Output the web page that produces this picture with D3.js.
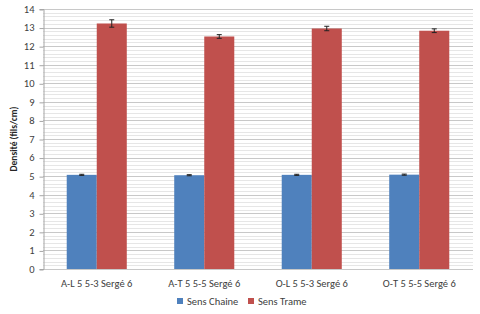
<!DOCTYPE html>
<html><head><meta charset="utf-8">
<script src="https://cdn.jsdelivr.net/npm/d3@7/dist/d3.min.js"></script>
<style>
html,body{margin:0;padding:0;background:#fff;}
svg{display:block;font-family:Calibri,"Liberation Sans","Open Sans",Arial,sans-serif;}
</style></head><body>
<svg id="c" width="480" height="314"></svg>
<script>
const categories = ["A-L 5 5-3 Sergé 6", "A-T 5 5-5 Sergé 6", "O-L 5 5-3 Sergé 6", "O-T 5 5-5 Sergé 6"];
const seriesNames = ["Sens Chaine", "Sens Trame"];
const chaineValues = [5.07, 5.05, 5.07, 5.08];
const trameValues = [13.22, 12.52, 12.95, 12.83];
const chaineErrors = [0.03, 0.03, 0.03, 0.03];
const trameErrors = [0.2, 0.1, 0.12, 0.1];
const yTicks = [0,1,2,3,4,5,6,7,8,9,10,11,12,13,14];
const yTitle = "Densité (fils/cm)";
const colors = ["#4F81BD", "#C0504D"];

const svg = d3.select("#c");
const m = {l: 43, r: 7, t: 9, b: 45};
const W = 480, H = 314;
const x0 = d3.scaleBand().domain(categories).range([m.l, W - m.r]).paddingInner(0).paddingOuter(0);
const inner = d3.scaleBand().domain(seriesNames).range([0, x0.bandwidth()]).paddingOuter(0.79).paddingInner(0);
const y = d3.scaleLinear().domain([0, 14]).range([H - m.b, m.t]);

// minor gridlines
const minor = d3.range(0, 14.001, 0.2).filter(v => Math.abs(v - Math.round(v)) > 1e-6);
svg.append("g").selectAll("line").data(minor).join("line")
  .attr("x1", m.l).attr("x2", W - m.r)
  .attr("y1", d => Math.round(y(d)) + 0.5).attr("y2", d => Math.round(y(d)) + 0.5)
  .attr("stroke", "#e6e6e6").attr("stroke-width", 1);
// major gridlines
svg.append("g").selectAll("line").data(yTicks).join("line")
  .attr("x1", m.l).attr("x2", W - m.r)
  .attr("y1", d => Math.round(y(d)) + 0.5).attr("y2", d => Math.round(y(d)) + 0.5)
  .attr("stroke", "#c8c8c8").attr("stroke-width", 1);

// y axis
const yAxis = d3.axisLeft(y).tickValues(yTicks).tickSize(4).tickPadding(5).tickFormat(d3.format("d"));
const ga = svg.append("g").attr("transform", `translate(${m.l + 0.5},0)`).call(yAxis);
ga.select(".domain").attr("stroke", "#a6a6a6");
ga.selectAll(".tick line").attr("stroke", "#a6a6a6").attr("transform", "translate(0,0.5)");
ga.selectAll(".tick text").attr("fill", "#404040").attr("font-size", "10.5px").attr("font-family", "Calibri,'Liberation Sans',Arial,sans-serif");

// bars
const data = categories.map((c, i) => ({c, vals: [
  {s: seriesNames[0], v: chaineValues[i], e: chaineErrors[i], col: colors[0]},
  {s: seriesNames[1], v: trameValues[i], e: trameErrors[i], col: colors[1]}]}));
const g = svg.append("g").selectAll("g").data(data).join("g")
  .attr("transform", d => `translate(${x0(d.c)},0)`);
g.selectAll("rect").data(d => d.vals).join("rect")
  .attr("x", d => inner(d.s)).attr("width", inner.bandwidth())
  .attr("y", d => y(d.v)).attr("height", d => y(0) - y(d.v))
  .attr("fill", d => d.col);
// error bars
g.selectAll("g.err").data(d => d.vals).join("g").attr("class", "err").each(function(d) {
  const cx = inner(d.s) + inner.bandwidth() / 2;
  const s = d3.select(this);
  s.append("line").attr("x1", cx).attr("x2", cx).attr("y1", y(d.v + d.e)).attr("y2", y(d.v - d.e)).attr("stroke", "#222").attr("stroke-width", 1);
  s.append("line").attr("x1", cx - 2.5).attr("x2", cx + 2.5).attr("y1", y(d.v + d.e)).attr("y2", y(d.v + d.e)).attr("stroke", "#222");
  s.append("line").attr("x1", cx - 2.5).attr("x2", cx + 2.5).attr("y1", y(d.v - d.e)).attr("y2", y(d.v - d.e)).attr("stroke", "#222");
});

// category labels
const xAxis = d3.axisBottom(x0).tickSize(0).tickPadding(11);
const gx = svg.append("g").attr("transform", `translate(0,${y(0)})`).call(xAxis);
gx.select(".domain").remove();
gx.selectAll(".tick text").attr("fill", "#404040").attr("font-size", "10.5px").attr("font-family", "Calibri,'Liberation Sans',Arial,sans-serif");

// y title
svg.append("text").attr("transform", `translate(17,${(m.t + y(0)) / 2}) rotate(-90)`)
  .attr("text-anchor", "middle").attr("font-size", "9.5px").attr("font-weight", "bold").attr("fill", "#262626")
  .text(yTitle);

// legend
const legX = [177, 248];
const lg = svg.append("g").selectAll("g").data(seriesNames).join("g")
  .attr("transform", (d, i) => `translate(${legX[i]},${299})`);
lg.append("rect").attr("width", 6).attr("height", 6).attr("y", -1).attr("fill", (d, i) => colors[i]);
lg.append("text").attr("x", 10).attr("y", 5.5).attr("font-size", "10.5px").attr("fill", "#404040").text(d => d);
</script>
</body></html>
